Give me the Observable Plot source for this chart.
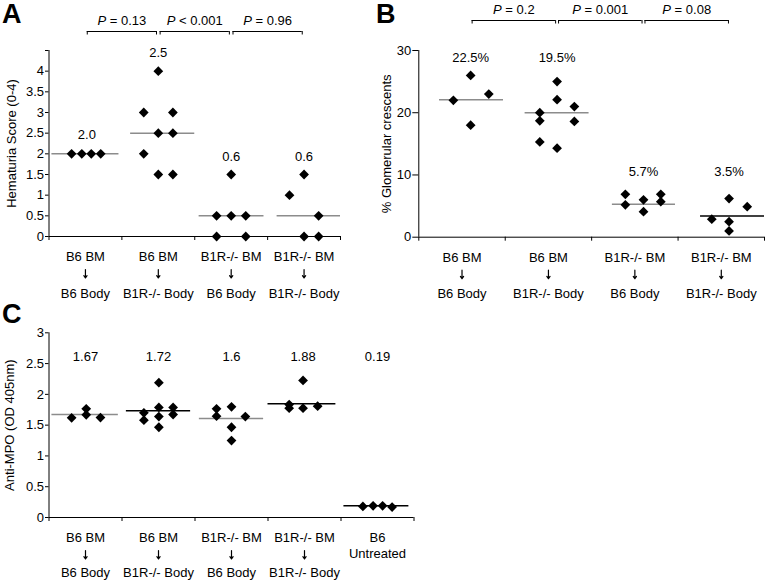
<!DOCTYPE html>
<html><head><meta charset="utf-8">
<script src="https://cdn.jsdelivr.net/npm/d3@7"></script>
<script src="https://cdn.jsdelivr.net/npm/@observablehq/plot@0.6"></script>
<style>
body{margin:0;background:#fff;font-family:'Liberation Sans',Arial,sans-serif;}
#fig{position:relative;width:767px;height:580px;overflow:hidden;background:#fff;}
.panel{position:absolute;}
.letter{position:absolute;font-weight:bold;font-size:27px;line-height:20px;height:20px;color:#000;}
</style></head><body>
<div id="fig">
  <div id="pa" class="panel" style="left:0px;top:0px"></div>
  <div id="pb" class="panel" style="left:380px;top:0px"></div>
  <div id="pc" class="panel" style="left:0px;top:300px"></div>
  <div class="letter" style="left:2px;top:3.5px">A</div>
  <div class="letter" style="left:376px;top:3.5px">B</div>
  <div class="letter" style="left:2px;top:303.5px">C</div>
</div>
<script>
// ---------- categories ----------
const catTopAB = ["B6 BM", "B6 BM", "B1R-/- BM", "B1R-/- BM"];
const catBottomAB = ["B6 Body", "B1R-/- Body", "B6 Body", "B1R-/- Body"];
const catTopC = ["B6 BM", "B6 BM", "B1R-/- BM", "B1R-/- BM", "B6\nUntreated"];
const catBottomC = ["B6 Body", "B1R-/- Body", "B6 Body", "B1R-/- Body", ""];

// ---------- Panel A: hematuria score, [x in category units, value] ----------
const hematuriaPoints = [
  [0.31, 2], [0.45, 2], [0.58, 2], [0.71, 2],
  [1.5, 4], [1.3, 3], [1.7, 3], [1.5, 2.5], [1.7, 2.5], [1.3, 2], [1.5, 1.5], [1.7, 1.5],
  [2.5, 1.5], [2.3, 0.5], [2.5, 0.5], [2.7, 0.5], [2.3, 0], [2.7, 0],
  [3.3, 1], [3.5, 1.5], [3.7, 0.5], [3.5, 0], [3.7, 0]
];
const hematuriaLines = [[0.04, 0.96, 2], [1.12, 2.0, 2.5], [2.06, 2.95, 0.5], [3.13, 4.0, 0.5]];
const hematuriaMeans = ["2.0", "2.5", "0.6", "0.6"];
const hematuriaMeanX = [0.52, 1.5, 2.5, 3.5];
const hematuriaMeanY = [2.45, 4.44, 1.92, 1.92];
const hematuriaP = ["P = 0.13", "P < 0.001", "P = 0.96"];
const hematuriaTicks = [0, 0.5, 1, 1.5, 2, 2.5, 3, 3.5, 4, 4.5];

// ---------- Panel B: % glomerular crescents ----------
const crescentPoints = [
  [0.40, 22], [0.60, 26], [0.81, 23], [0.60, 18],
  [1.40, 20], [1.40, 18.7], [1.60, 25], [1.60, 22.1], [1.80, 21], [1.80, 18.6], [1.40, 15.3], [1.60, 14.3],
  [2.39, 6.9], [2.39, 5.2], [2.60, 6.0], [2.60, 4.1], [2.80, 6.9], [2.80, 5.7],
  [3.39, 2.9], [3.59, 6.2], [3.59, 2.5], [3.59, 1.0], [3.80, 4.9]
];
const crescentLines = [[0.24, 0.98, 22.1], [1.23, 1.97, 20], [2.24, 2.97, 5.3], [3.26, 4.0, 3.4]];
const crescentMeans = ["22.5%", "19.5%", "5.7%", "3.5%"];
const crescentMeanX = [0.6, 1.6, 2.6, 3.59];
const crescentMeanY = [28.9, 28.9, 10.56, 10.56];
const crescentP = ["P = 0.2", "P = 0.001", "P = 0.08"];
const crescentTicks = [0, 10, 20, 30];

// ---------- Panel C: anti-MPO ----------
const mpoPoints = [
  [0.31, 1.62], [0.51, 1.765], [0.51, 1.667], [0.705, 1.624],
  [1.30, 1.70], [1.30, 1.58], [1.505, 2.19], [1.505, 1.787], [1.505, 1.64], [1.505, 1.466], [1.70, 1.787], [1.70, 1.673],
  [2.295, 1.765], [2.295, 1.645], [2.5, 1.798], [2.5, 1.466], [2.5, 1.249], [2.69, 1.64],
  [3.29, 1.835], [3.29, 1.775], [3.48, 2.226], [3.48, 1.775], [3.68, 1.808],
  [4.30, 0.18], [4.44, 0.19], [4.57, 0.19], [4.70, 0.17]
];
const mpoLines = [[0.04, 0.95, 1.673], [1.06, 1.94, 1.733], [2.06, 2.94, 1.607], [3.0, 3.93, 1.847], [4.04, 4.93, 0.19]];
const mpoMeans = ["1.67", "1.72", "1.6", "1.88", "0.19"];
const mpoMeanX = [0.5, 1.5, 2.5, 3.48, 4.5];
const mpoMeanY = [2.61, 2.61, 2.61, 2.61, 2.61];
const mpoTicks = [0, 0.5, 1, 1.5, 2, 2.5, 3];

const GRAY = "#8c8c8c", BLACK = "#000";

function drawPanel(o) {
  const plotH = o.height - o.marginTop - o.marginBottom;
  const above = px => o.ymax + px * o.ymax / plotH;
  const below = px => -px * o.ymax / plotH;
  const centers = d3.range(o.nCat).map(i => i + o.centerOffset);
  const brackets = o.pvals.map((p, i) => ({
    a: centers[i] + o.gap, b: centers[i + 1] - o.gap,
    mid: (centers[i] + centers[i + 1]) / 2, p
  }));
  const legs = brackets.flatMap(d => [d.a, d.b]);
  const arrowsX = o.catBottom.map((d, i) => d ? i + 0.5 : null).filter(d => d != null);
  const marks = [
    Plot.axisY({ticks: o.yticks, tickSize: o.tickSize, tickPadding: o.tickPadding, tickFormat: o.tickFormat, label: null}),
    Plot.axisX({ticks: d3.range(o.nCat + 1), tickSize: 4, tickFormat: () => "", label: null}),
    Plot.ruleX([0], {y1: 0, y2: o.ymax, stroke: BLACK}),
    Plot.ruleY([0], {x1: 0, x2: o.nCat, stroke: BLACK}),
    Plot.text([o.yLabel], {frameAnchor: "left", textAnchor: "middle", rotate: -90, dx: o.yLabelDx, text: d => d}),
    Plot.ruleY(o.lines, {x1: d => d[0], x2: d => d[1], y: d => d[2], stroke: (d, i) => o.lineColors[i], strokeWidth: 1.5}),
    Plot.dot(o.points, {x: d => d[0], y: d => d[1], symbol: "diamond2", r: 4.4, fill: BLACK, stroke: "none"}),
    Plot.text(o.means, {x: (d, i) => o.meanX[i], y: (d, i) => o.meanY[i], text: d => d}),
    Plot.text(o.catTop, {x: (d, i) => i + 0.5, y: 0, text: d => d, lineAnchor: "top", lineHeight: 1.25, dy: 13}),
    Plot.arrow(arrowsX, {x1: d => d, x2: d => d, y1: below(33), y2: below(41.5), headLength: 4, headAngle: 70, strokeWidth: 1.2, stroke: BLACK}),
    Plot.text(o.catBottom, {x: (d, i) => i + 0.5, y: 0, text: d => d, lineAnchor: "top", dy: o.row2Dy})
  ];
  if (o.pvals.length) {
    marks.push(
      Plot.ruleY(brackets, {x1: "a", x2: "b", y: above(o.bracketPx), stroke: BLACK}),
      Plot.ruleX(legs, {x: d => d, y1: above(o.bracketPx), y2: above(o.bracketPx - 3.5), stroke: BLACK}),
      Plot.text(brackets, {x: "mid", y: above(o.pPx), text: "p"})
    );
  }
  const svg = Plot.plot({
    width: o.width, height: o.height,
    marginLeft: o.marginLeft, marginRight: o.marginRight,
    marginTop: o.marginTop, marginBottom: o.marginBottom,
    x: {domain: [0, o.nCat]},
    y: {domain: [0, o.ymax]},
    color: {type: "identity"},
    style: {fontFamily: "'Liberation Sans', Arial, sans-serif", fontSize: "13px", color: "black", background: "transparent", overflow: "visible"},
    marks
  });
  d3.select(svg).selectAll("text").each(function () {
    const t = this.textContent;
    if (/^P [=<]/.test(t) && this.childElementCount === 0) {
      this.textContent = "";
      d3.select(this).append("tspan").attr("font-style", "italic").text("P");
      d3.select(this).append("tspan").text(t.slice(1));
    }
  });
  document.getElementById(o.id).appendChild(svg);
}

drawPanel({
  id: "pa", width: 345, height: 300, marginLeft: 48.5, marginRight: 5, marginTop: 50, marginBottom: 64,
  nCat: 4, ymax: 4.5, yticks: hematuriaTicks, tickFormat: d => d === 4.5 ? "" : String(d),
  tickSize: 3.5, tickPadding: 1.5, yLabel: "Hematuria Score (0-4)", yLabelDx: -37.5,
  points: hematuriaPoints, lines: hematuriaLines, lineColors: [GRAY, GRAY, GRAY, GRAY],
  means: hematuriaMeans, meanX: hematuriaMeanX, meanY: hematuriaMeanY,
  catTop: catTopAB, catBottom: catBottomAB, row2Dy: 52,
  pvals: hematuriaP, centerOffset: 0.5, gap: 0.025, bracketPx: 19, pPx: 30
});

drawPanel({
  id: "pb", width: 387, height: 300, marginLeft: 38.3, marginRight: 3, marginTop: 50, marginBottom: 63.3,
  nCat: 4, ymax: 30, yticks: crescentTicks, tickFormat: d => String(d),
  tickSize: 6, tickPadding: 1.5, yLabel: "% Glomerular crescents", yLabelDx: -32,
  points: crescentPoints, lines: crescentLines, lineColors: [GRAY, GRAY, GRAY, BLACK],
  means: crescentMeans, meanX: crescentMeanX, meanY: crescentMeanY,
  catTop: catTopAB, catBottom: catBottomAB, row2Dy: 52,
  pvals: crescentP, centerOffset: 0.6, gap: 0.017, bracketPx: 30, pPx: 40.5
});

drawPanel({
  id: "pc", width: 420, height: 280, marginLeft: 48.5, marginRight: 6.5, marginTop: 32.3, marginBottom: 63,
  nCat: 5, ymax: 3, yticks: mpoTicks, tickFormat: d => String(d),
  tickSize: 3.5, tickPadding: 1.5, yLabel: "Anti-MPO (OD 405nm)", yLabelDx: -39.5,
  points: mpoPoints, lines: mpoLines, lineColors: [GRAY, BLACK, GRAY, BLACK, BLACK],
  means: mpoMeans, meanX: mpoMeanX, meanY: mpoMeanY,
  catTop: catTopC, catBottom: catBottomC, row2Dy: 50.5,
  pvals: [], centerOffset: 0.5, gap: 0, bracketPx: 0, pPx: 0
});
</script>
</body></html>
